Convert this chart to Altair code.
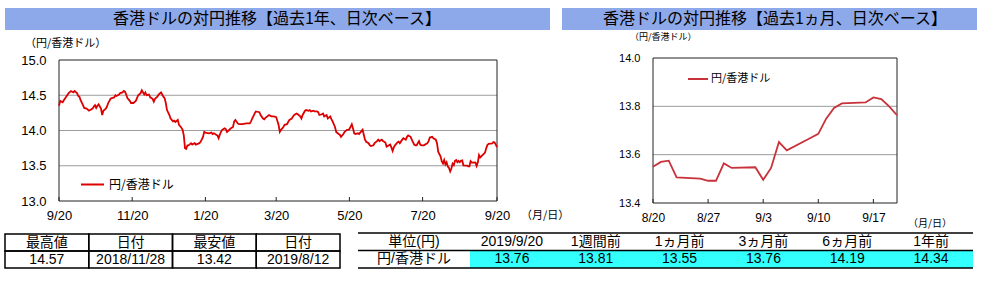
import altair as alt
import pandas as pd

# ---------------- data ----------------
series_name = "円/香港ドル"

year_start = "2018-09-20"
year_end = "2019-09-20"
# days after 2018-09-20 and the rate on that day (until 2019-08-19)
year_days = [0, 1, 3, 4, 6, 8, 10, 12, 13, 15, 16, 17, 18, 20, 21, 23, 25, 26, 28, 29,
             30, 31, 32, 33, 35, 36, 37, 39, 40, 41, 42, 43, 44, 46, 47, 48, 50, 51, 53, 54,
             55, 56, 57, 59, 60, 62, 64, 65, 66, 68, 69, 71, 72, 73, 75, 76, 78, 79, 80, 82,
             83, 85, 86, 87, 88, 89, 90, 92, 93, 95, 96, 97, 99, 100, 102, 103, 104, 105, 106, 107,
             108, 110, 111, 113, 114, 117, 118, 120, 121, 122, 125, 127, 128, 129, 131, 132, 133, 134, 135, 136,
             138, 139, 140, 142, 143, 145, 146, 147, 149, 150, 153, 156, 159, 160, 161, 163, 164, 167, 168, 170,
             171, 172, 175, 177, 179, 181, 183, 184, 185, 187, 188, 190, 191, 192, 194, 195, 196, 198, 199, 201,
             202, 203, 205, 206, 208, 209, 210, 212, 213, 215, 216, 217, 219, 220, 221, 223, 224, 226, 227, 228,
             230, 231, 233, 234, 235, 237, 238, 240, 241, 242, 244, 245, 246, 247, 249, 250, 251, 253, 254, 255,
             256, 258, 259, 260, 262, 263, 265, 266, 267, 269, 270, 272, 273, 275, 276, 277, 278, 279, 280, 282,
             283, 284, 286, 287, 289, 290, 291, 293, 294, 296, 297, 298, 300, 301, 302, 304, 305, 307, 308, 309,
             311, 312, 314, 315, 316, 318, 319, 320, 321, 322, 323, 324, 325, 326, 327, 328, 329, 330, 331, 332,
             333]
year_rates = [14.35, 14.42, 14.40, 14.43, 14.48, 14.53, 14.56, 14.54, 14.56, 14.53, 14.49, 14.48, 14.43, 14.36, 14.32, 14.31, 14.28, 14.29, 14.31, 14.34,
              14.36, 14.32, 14.35, 14.37, 14.31, 14.22, 14.28, 14.31, 14.34, 14.39, 14.42, 14.45, 14.46, 14.47, 14.50, 14.49, 14.51, 14.53, 14.54, 14.56,
              14.55, 14.51, 14.46, 14.42, 14.39, 14.39, 14.42, 14.46, 14.50, 14.53, 14.57, 14.51, 14.54, 14.50, 14.51, 14.47, 14.45, 14.41, 14.45, 14.48,
              14.51, 14.54, 14.51, 14.48, 14.46, 14.39, 14.29, 14.22, 14.17, 14.13, 14.14, 14.12, 14.15, 14.08, 14.04, 14.01, 13.93, 13.75, 13.74, 13.79,
              13.79, 13.82, 13.80, 13.82, 13.80, 13.82, 13.84, 13.91, 13.98, 13.97, 13.96, 13.97, 13.95, 13.96, 13.94, 13.93, 13.89, 13.94, 13.98, 14.01,
              14.03, 14.02, 13.98, 14.01, 14.03, 14.05, 14.13, 14.15, 14.10, 14.09, 14.09, 14.10, 14.10, 14.13, 14.17, 14.24, 14.27, 14.26, 14.22, 14.17,
              14.16, 14.18, 14.22, 14.20, 14.20, 14.19, 14.08, 13.98, 14.01, 14.05, 14.08, 14.09, 14.12, 14.15, 14.17, 14.20, 14.22, 14.24, 14.23, 14.20,
              14.17, 14.22, 14.28, 14.29, 14.28, 14.29, 14.27, 14.28, 14.27, 14.27, 14.26, 14.22, 14.23, 14.24, 14.20, 14.22, 14.17, 14.20, 14.16, 14.13,
              14.05, 13.98, 13.95, 13.94, 13.91, 13.95, 13.98, 14.01, 14.01, 14.02, 14.09, 14.03, 13.96, 13.95, 13.96, 13.95, 13.97, 14.01, 13.94, 13.87,
              13.84, 13.82, 13.79, 13.78, 13.79, 13.82, 13.85, 13.87, 13.85, 13.87, 13.85, 13.83, 13.77, 13.79, 13.80, 13.76, 13.71, 13.76, 13.79, 13.83,
              13.84, 13.82, 13.87, 13.89, 13.87, 13.91, 13.93, 13.91, 13.87, 13.80, 13.79, 13.79, 13.85, 13.80, 13.79, 13.79, 13.80, 13.82, 13.85, 13.90,
              13.91, 13.89, 13.87, 13.82, 13.70, 13.63, 13.56, 13.53, 13.58, 13.52, 13.55, 13.49, 13.47, 13.42, 13.46, 13.53, 13.51, 13.57, 13.58, 13.55,
              13.57]

month_start = "2019-08-20"
month_end = "2019-09-20"
month_dates = ["2019-08-20", "2019-08-21", "2019-08-22", "2019-08-23", "2019-08-26", "2019-08-27",
               "2019-08-28", "2019-08-29", "2019-08-30", "2019-09-02", "2019-09-03", "2019-09-04",
               "2019-09-05", "2019-09-06", "2019-09-09", "2019-09-10", "2019-09-11", "2019-09-12",
               "2019-09-13", "2019-09-16", "2019-09-17", "2019-09-18", "2019-09-19", "2019-09-20"]
month_rates = [13.55, 13.57, 13.575, 13.506, 13.501, 13.492, 13.492, 13.564, 13.545, 13.548, 13.496, 13.545,
               13.652, 13.618, 13.669, 13.686, 13.749, 13.793, 13.812, 13.816, 13.837, 13.83, 13.80, 13.763]

year_ticks = ["2018-09-20", "2018-11-20", "2019-01-20", "2019-03-20", "2019-05-20", "2019-07-20", "2019-09-20"]
year_yticks = [13.0, 13.5, 14.0, 14.5, 15.0]
year_grid = [13.5, 14.0, 14.5]
month_ticks = ["2019-08-20", "2019-08-27", "2019-09-03", "2019-09-10", "2019-09-17"]
month_yticks = [13.4, 13.6, 13.8, 14.0]
month_grid = [13.6, 13.8]

t1_headers = ["最高値", "日付", "最安値", "日付"]
t1_values = ["14.57", "2018/11/28", "13.42", "2019/8/12"]
t2_headers = ["単位(円)", "2019/9/20", "1週間前", "1ヵ月前", "3ヵ月前", "6ヵ月前", "1年前"]
t2_values = ["円/香港ドル", "13.76", "13.81", "13.55", "13.76", "14.19", "14.34"]

title_left = "香港ドルの対円推移【過去1年、日次ベース】"
title_right = "香港ドルの対円推移【過去1ヵ月、日次ベース】"
unit_label = "（円/香港ドル）"
date_label = "（月/日）"

# ---------------- styling ----------------
FONT = "Liberation Sans, Noto Sans CJK JP"
JFONT = "Noto Sans CJK JP"
BAR = "#8EA9EA"
RED_L = "#DD0000"
RED_R = "#C8323A"
GRID = "#9C9C9C"
FRAME = "#222222"


def ms(s):
    return int(pd.Timestamp(s, tz="UTC").timestamp() * 1000)


def LX():
    return alt.Scale(type="utc", domain=[ms(year_start), ms(year_end)], range=[59, 497])


def LY():
    return alt.Scale(domain=[13.0, 15.0], range=[201, 60], nice=False, zero=False)


def RX():
    return alt.Scale(type="utc", domain=[ms(month_start), ms(month_end)], range=[653, 897])


def RY():
    return alt.Scale(domain=[13.4, 14.0], range=[203, 58], nice=False, zero=False)


start = pd.Timestamp(year_start)
year_dates = [(start + pd.Timedelta(days=d)).strftime("%Y-%m-%d") for d in year_days]
left_df = pd.DataFrame({"date": year_dates + month_dates,
                        "rate": year_rates + month_rates, "series": series_name})
right_df = pd.DataFrame({"date": month_dates, "rate": month_rates, "series": series_name})

DATE_EXPR = "utcFormat(datum.value, '%-m/%-d')"


def panel(df, xs, ys, x0, x1, y0, y1, grid, ticks, yticks, color, xoff, yoff,
          xfs, yfs, xpad, ypad, lx, ly, lsize, lfs, loff, sw):
    grid_c = alt.Chart(pd.DataFrame({"v": grid, "a": x0, "b": x1})).mark_rule(
        color=GRID, strokeWidth=1).encode(
        x=alt.X("a:T", scale=xs(), axis=None), x2="b:T",
        y=alt.Y("v:Q", scale=ys(), axis=None))
    frame_c = alt.Chart(pd.DataFrame({"a": [x0], "b": [x1], "lo": [y0], "hi": [y1]})).mark_rect(
        fillOpacity=0, stroke=FRAME, strokeWidth=1).encode(
        x=alt.X("a:T", scale=xs(), axis=None), x2="b:T",
        y=alt.Y("lo:Q", scale=ys(), axis=None), y2="hi:Q")
    tick_c = alt.Chart(pd.DataFrame({"d": ticks, "v": y0})).mark_rule(
        color=FRAME, strokeWidth=1, y2Offset=-4).encode(
        x=alt.X("d:T", scale=xs(), axis=None),
        y=alt.Y("v:Q", scale=ys(), axis=None), y2="v:Q")
    line_c = alt.Chart(df).mark_line(strokeWidth=sw).encode(
        x=alt.X("date:T", scale=xs(), axis=alt.Axis(
            orient="bottom", offset=xoff, values=[ms(t) for t in ticks],
            labelExpr=DATE_EXPR, labelFont=FONT, labelFontSize=xfs,
            labelColor="#000000", labelPadding=xpad, tickSize=0, domain=False, grid=False,
            title=None, labelOverlap=False, labelFlush=False)),
        y=alt.Y("rate:Q", scale=ys(), axis=alt.Axis(
            orient="left", offset=yoff, values=yticks, format=".1f", labelFont=FONT,
            labelFontSize=yfs, labelColor="#000000", labelPadding=ypad, tickSize=0,
            domain=False, grid=False, title=None, labelOverlap=False, labelFlush=False)),
        color=alt.Color("series:N", scale=alt.Scale(domain=[series_name], range=[color]),
                        legend=alt.Legend(orient="none", legendX=lx, legendY=ly, title=None,
                                          symbolType="stroke", symbolSize=lsize,
                                          symbolStrokeWidth=2, labelFont=JFONT,
                                          labelFontSize=lfs, labelOffset=loff, padding=0,
                                          labelColor="#000000")))
    return [grid_c, frame_c, tick_c, line_c]


left_layers = panel(left_df, LX, LY, year_start, year_end, 13.0, 15.0, year_grid, year_ticks,
                    year_yticks, RED_L, -84, -59, 13, 13, 8, 13, 80, 172, 529, 12, 4, 1.8)
right_layers = panel(right_df, RX, RY, month_start, month_end, 13.4, 14.0, month_grid, month_ticks,
                     month_yticks, RED_R, -82, -653, 12, 11, 9, 13, 687, 68, 400, 11, 2, 1.8)

# ---------------- decorations: title bars and unit labels ----------------
def bar(x1, x2):
    return alt.Chart(pd.DataFrame({"k": [0]})).mark_rect(color=BAR).encode(
        x=alt.value(x1), x2=alt.value(x2), y=alt.value(8), y2=alt.value(30))


def label(x, y, txt, size, align="left", font=JFONT):
    return alt.Chart(pd.DataFrame({"k": [0]})).mark_text(
        align=align, baseline="middle", font=font, fontSize=size, color="#000000").encode(
        x=alt.value(x), y=alt.value(y), text=alt.value(txt))


deco = [
    bar(5, 550), bar(562, 977),
    label(277, 19, title_left, 16, "center"),
    label(775, 19, title_right, 16, "center"),
    label(25, 44, unit_label, 11),
    label(630, 37, unit_label, 9),
    label(521, 216, date_label, 11),
    label(908, 224, date_label, 10),
]

# ---------------- tables ----------------
T1X = lambda: alt.Scale(domain=[0, 4], range=[5, 340], nice=False, zero=False)
T1Y = lambda: alt.Scale(domain=[0, 2], range=[234, 268], nice=False, zero=False)
T2X = lambda: alt.Scale(domain=[0, 1, 7], range=[358, 470, 973], nice=False, zero=False)
T2Y = lambda: alt.Scale(domain=[0, 2], range=[233, 268], nice=False, zero=False)

t1 = pd.DataFrame({"col": list(range(4)) * 2, "row": [0] * 4 + [1] * 4,
                   "txt": t1_headers + t1_values})
t1["c1"] = t1["col"] + 1
t1["r1"] = t1["row"] + 1
t1["cx"] = t1["col"] + 0.5
t1["ry"] = t1["row"] + 0.5

t1_cells = alt.Chart(t1).mark_rect(fillOpacity=0, stroke="#000000", strokeWidth=1.5).encode(
    x=alt.X("col:Q", scale=T1X(), axis=None), x2="c1:Q",
    y=alt.Y("row:Q", scale=T1Y(), axis=None), y2="r1:Q")
t1_text = alt.Chart(t1).mark_text(font=FONT, fontSize=14, color="#000000", baseline="middle").encode(
    x=alt.X("cx:Q", scale=T1X(), axis=None),
    y=alt.Y("ry:Q", scale=T1Y(), axis=None), text="txt:N")

t2 = pd.DataFrame({"col": list(range(7)) * 2, "row": [0] * 7 + [1] * 7,
                   "txt": t2_headers + t2_values})
t2["cx"] = t2["col"] + 0.5
t2["ry"] = t2["row"] + 0.5
t2_fill = alt.Chart(pd.DataFrame({"a": [1], "b": [7], "lo": [1], "hi": [2]})).mark_rect(
    color="#33FFFF").encode(
    x=alt.X("a:Q", scale=T2X(), axis=None), x2="b:Q",
    y=alt.Y("lo:Q", scale=T2Y(), axis=None), y2="hi:Q")
t2_lines = alt.Chart(pd.DataFrame({"v": [0, 1, 2], "a": 0, "b": 7})).mark_rule(
    color="#000000", strokeWidth=1.3).encode(
    x=alt.X("a:Q", scale=T2X(), axis=None), x2="b:Q",
    y=alt.Y("v:Q", scale=T2Y(), axis=None))
t2_text = alt.Chart(t2).mark_text(font=FONT, fontSize=14, color="#000000", baseline="middle").encode(
    x=alt.X("cx:Q", scale=T2X(), axis=None),
    y=alt.Y("ry:Q", scale=T2Y(), axis=None), text="txt:N")

layers = deco + left_layers + right_layers + [t1_cells, t1_text, t2_fill, t2_lines, t2_text]

chart = alt.layer(*layers).resolve_scale(
    x="independent", y="independent", color="independent"
).properties(
    width=981, height=285, autosize=alt.AutoSizeParams(type="none"), padding=0,
    background="#ffffff"
).configure_view(stroke=None)

chart.save("out.html", embed_options={"renderer": "svg", "actions": False})
